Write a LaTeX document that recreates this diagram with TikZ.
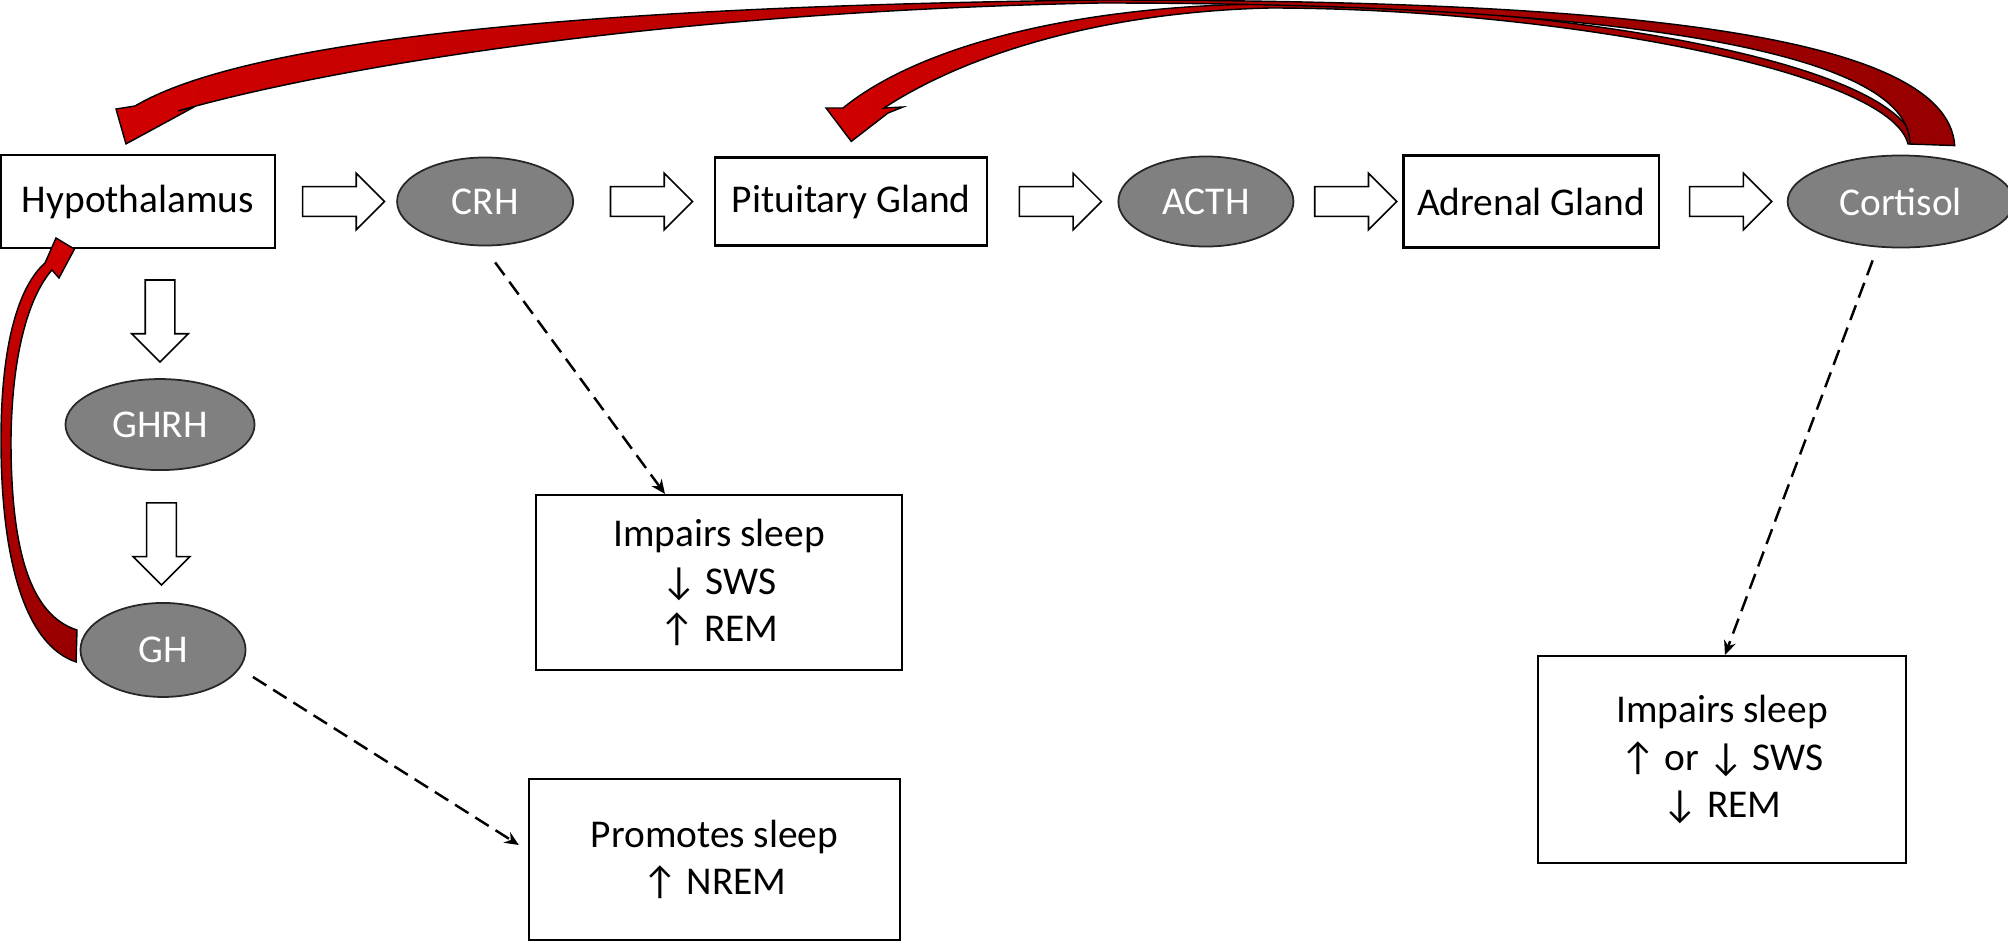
\documentclass[tikz,border=0pt]{standalone}
\usepackage{fontspec}
\setmainfont{Carlito}
\usepackage{xcolor}
\usepackage{tikz}
\usetikzlibrary{shapes.geometric, shapes.arrows, arrows.meta, positioning}

\definecolor{hormgray}{RGB}{128,128,128}
\definecolor{fbred}{RGB}{208,0,0}
\definecolor{fbdark}{RGB}{150,0,0}

\begin{document}
\begin{tikzpicture}[x=0.01cm, y=-0.01cm, >=Stealth, font=\fontsize{11.2}{13.4}\selectfont]
    \tikzset{
        organ/.style={rectangle, draw=black, fill=white, line width=0.6pt, inner sep=0pt, align=center},
        hormone/.style={ellipse, draw=black!85, fill=hormgray, line width=0.5pt, inner sep=0pt, text=white},
        effect/.style={rectangle, draw=black, line width=0.6pt, inner sep=0pt, align=center},
        fatarrow/.style={single arrow, draw=black, fill=white, line width=0.45pt, inner xsep=0pt, inner ysep=0.14cm, minimum height=0.82cm, minimum width=0.55cm, single arrow head extend=0.135cm},
        effectline/.style={draw, dash pattern=on 4.5pt off 2.3pt, line width=0.7pt, -{Stealth[length=4pt,width=3.5pt]}},
        feedback/.style={draw=black, line width=0.4pt, left color=fbred, middle color=fbred, right color=fbdark}
    }
    \useasboundingbox (0,0) rectangle (2008,942);

    % axis along the top
    \node (Hyp) [organ, minimum width=2.74cm, minimum height=0.93cm] at (138,201.5) {Hypothalamus};
    \node (CRH) [hormone, right=1.20cm of Hyp, minimum width=1.76cm, minimum height=0.88cm] {CRH};
    \node (Pit) [organ, right=1.40cm of CRH, minimum width=2.72cm, minimum height=0.88cm] {Pituitary Gland};
    \node (ACTH) [hormone, right=1.29cm of Pit, minimum width=1.75cm, minimum height=0.90cm] {ACTH};
    \node (Adr) [organ, right=1.08cm of ACTH, minimum width=2.55cm, minimum height=0.92cm] {Adrenal Gland};
    \node (Cort) [hormone, right=1.27cm of Adr, minimum width=2.26cm, minimum height=0.92cm] {Cortisol};

    % growth hormone branch
    \node (GHRH) [hormone, below=1.29cm of Hyp, xshift=0.22cm, minimum width=1.89cm, minimum height=0.91cm] {GHRH};
    \node (GH) [hormone, below=1.31cm of GHRH, xshift=0.03cm, minimum width=1.65cm, minimum height=0.94cm] {GH};

    % effects on sleep
    \node (ImpCRH) [effect, minimum width=3.66cm, minimum height=1.75cm] at (719,582.5) {Impairs sleep\\↓ SWS\\↑ REM};
    \node (Promo) [effect, minimum width=3.71cm, minimum height=1.61cm] at (714.5,859.5) {Promotes sleep\\↑ NREM};
    \node (ImpCort) [effect, minimum width=3.68cm, minimum height=2.07cm] at (1722,759.5) {Impairs sleep\\↑ or ↓ SWS\\↓ REM};

    \path (Hyp) -- node[fatarrow] {} (CRH);
    \path (CRH) -- node[fatarrow] {} (Pit);
    \path (Pit) -- node[fatarrow] {} (ACTH);
    \path (ACTH) -- node[fatarrow] {} (Adr);
    \path (Adr) -- node[fatarrow] {} (Cort);
    \path (Hyp.south -| GHRH) -- node[fatarrow, rotate=-90] {} (GHRH);
    \path (GHRH) -- node[fatarrow, rotate=-90] {} (GH);

    \path [effectline] ([xshift=0.10cm, yshift=-0.16cm]CRH.south) -- ([xshift=-0.54cm]ImpCRH.north);
    \path [effectline] ([xshift=0.065cm, yshift=-0.27cm]GH.east) -- ([xshift=-0.09cm, yshift=0.145cm]Promo.west);
    \path [effectline] ([xshift=-0.28cm, yshift=-0.12cm]Cort.south) -- ([xshift=0.03cm]ImpCort.north);

    % negative feedback
    \coordinate (hypTip) at ([xshift=-0.12cm, yshift=0.10cm]Hyp.north);
    \coordinate (pitTip) at ([yshift=0.15cm]Pit.north);
    \coordinate (cortBase) at ([xshift=0.54cm, yshift=0.09cm]Cort.north);
    \coordinate (ghBase) at ([xshift=-0.035cm, yshift=-0.12cm]GH.west);
    \coordinate (hypFoot) at ([xshift=-0.635cm]Hyp.south);

    \path [feedback] (1915,144) .. controls (1900,60) and (1550,4) .. (1270,4)
        .. controls (1080,5) and (920,45) .. (843,108) -- (826,108) -- (pitTip) -- (888,113) -- (903,107) -- (884,108)
        .. controls (965,55) and (1100,12) .. (1270,8)
        .. controls (1550,8) and (1890,70) .. (1908,144) -- cycle;
    \path [feedback] (cortBase) .. controls (1947,30) and (1600,0) .. (1100,0)
        .. controls (600,6) and (250,38) .. (135,106) -- (116,109) -- (hypTip) -- (194,107) -- (178,111)
        .. controls (320,70) and (650,12) .. (1100,3)
        .. controls (1550,3) and (1910,40) .. (1910,144) -- cycle;
    \path [feedback, top color=fbred, bottom color=fbdark] (ghBase) .. controls (25,645) and (1,560) .. (1,440)
        .. controls (1,340) and (20,285) .. (45,263) -- (56,238) -- (hypFoot) -- (59,278) -- (52,270)
        .. controls (30,295) and (12,350) .. (11,440)
        .. controls (11,550) and (30,615) .. (77,630) -- cycle;
\end{tikzpicture}
\end{document}
